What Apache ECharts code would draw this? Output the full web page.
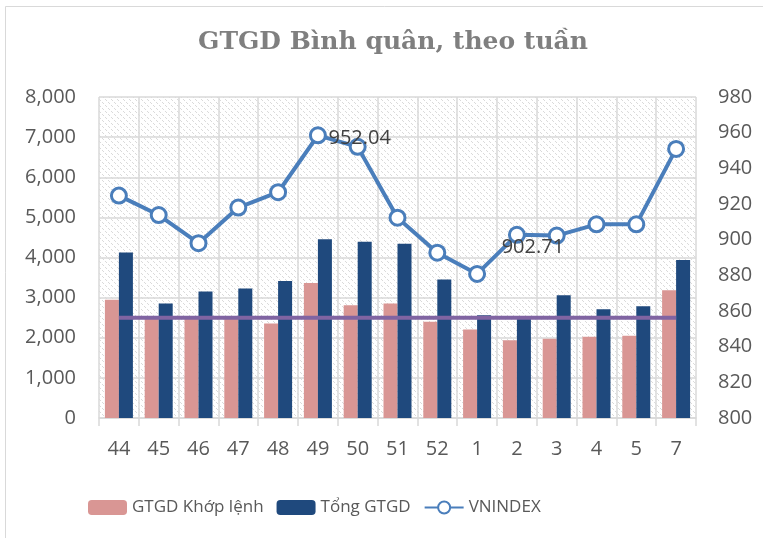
<!DOCTYPE html>
<html>
<head>
<meta charset="utf-8">
<script src="https://cdn.jsdelivr.net/npm/echarts@6/dist/echarts.min.js"></script>
<style>
  html, body { margin: 0; padding: 0; background: #fff; }
  #main { width: 763px; height: 538px; }
</style>
</head>
<body>
<div id="main"></div>
<script>
var weeks = ["44", "45", "46", "47", "48", "49", "50", "51", "52", "1", "2", "3", "4", "5", "7"];
var khopLenh = [2950, 2520, 2490, 2500, 2355, 3366, 2811, 2853, 2396, 2206, 1940, 1973, 2023, 2048, 3184];
var tongGTGD = [4122, 2853, 3151, 3226, 3416, 4453, 4395, 4345, 3450, 2562, 2540, 3060, 2711, 2786, 3938];
var vnindex = [924.7, 913.8, 898.0, 918.0, 926.6, 958.5, 952.04, 912.3, 892.7, 880.8, 902.71, 902.3, 908.6, 908.6, 950.9];
var avgLine = [2500, 2500, 2500, 2500, 2500, 2500, 2500, 2500, 2500, 2500, 2500, 2500, 2500, 2500, 2500];
var leftTicks = [0, 8000, 1000];
var rightTicks = [800, 980, 20];

// hatch pattern for the plot background
function makeHatch() {
  var c = document.createElement("canvas");
  c.width = 6; c.height = 6;
  var ctx = c.getContext("2d");
  ctx.fillStyle = "#ffffff";
  ctx.fillRect(0, 0, 6, 6);
  ctx.fillStyle = "#dadada";
  for (var i = 0; i < 6; i++) {
    if (i % 3 !== 2) ctx.fillRect(i, i, 1, 1);
  }
  return c;
}

var chart = echarts.init(document.getElementById("main"));

var vnData = vnindex.map(function (v, i) {
  if (i === 6) {
    return { value: v, label: { show: true, position: "inside", offset: [2, -9] } };
  }
  if (i === 10) {
    return { value: v, label: { show: true, position: "inside", offset: [16, 12] } };
  }
  return v;
});

var option = {
  animation: false,
  backgroundColor: "#ffffff",
  graphic: [{
    type: "rect",
    shape: { x: 5.5, y: 6.5, width: 900, height: 700 },
    style: { fill: "none", stroke: "#d9d9d9", lineWidth: 1 },
    silent: true
  }],
  title: {
    text: "GTGD Bình quân, theo tuần",
    left: 388,
    top: 25,
    textAlign: "center",
    textStyle: {
      fontFamily: "DejaVu Serif",
      fontWeight: "bold",
      fontSize: 25,
      color: "#7f7f7f"
    }
  },
  legend: {
    left: 83,
    top: 494,
    itemWidth: 39,
    itemHeight: 15,
    itemGap: 13,
    data: ["GTGD Khớp lệnh", "Tổng GTGD", "VNINDEX"],
    textStyle: {
      fontFamily: "Open Sans",
      fontSize: 17,
      color: "#595959"
    }
  },
  grid: {
    left: 99,
    right: 67,
    top: 97,
    bottom: 120,
    show: true,
    borderWidth: 0,
    backgroundColor: { image: makeHatch(), repeat: "repeat" }
  },
  xAxis: {
    type: "category",
    data: weeks,
    axisLine: { lineStyle: { color: "#d9d9d9", width: 1.5 } },
    axisTick: { show: true, length: 8, lineStyle: { color: "#d9d9d9", width: 1.5 } },
    splitLine: { show: true, lineStyle: { color: "#d9d9d9", width: 1.5 } },
    axisLabel: {
      margin: 21,
      fontFamily: "Open Sans",
      fontSize: 20,
      color: "#595959"
    }
  },
  yAxis: [{
    type: "value",
    min: leftTicks[0],
    max: leftTicks[1],
    interval: leftTicks[2],
    axisLine: { show: false },
    axisTick: { show: false },
    splitLine: { lineStyle: { color: "#d9d9d9", width: 1.5 } },
    axisLabel: {
      margin: 23,
      fontFamily: "Open Sans",
      fontSize: 20,
      color: "#595959",
      formatter: function (v) { return v.toLocaleString("en-US"); }
    }
  }, {
    type: "value",
    min: rightTicks[0],
    max: rightTicks[1],
    interval: rightTicks[2],
    axisLine: { show: false },
    axisTick: { show: false },
    splitLine: { show: false },
    axisLabel: {
      margin: 22,
      fontFamily: "Open Sans",
      fontSize: 20,
      color: "#595959"
    }
  }],
  series: [{
    name: "GTGD Khớp lệnh",
    type: "bar",
    data: khopLenh,
    barWidth: 14,
    barGap: "0%",
    itemStyle: { color: "#d99694" }
  }, {
    name: "Tổng GTGD",
    type: "bar",
    data: tongGTGD,
    barWidth: 14,
    itemStyle: { color: "#1f497d" }
  }, {
    name: "Bình quân",
    type: "line",
    data: avgLine,
    symbol: "none",
    lineStyle: { color: "#8064a2", width: 4 },
    itemStyle: { color: "#8064a2" },
    z: 3
  }, {
    name: "VNINDEX",
    type: "line",
    yAxisIndex: 1,
    data: vnData,
    symbol: "circle",
    symbolSize: 15,
    lineStyle: { color: "#4a7ebb", width: 4 },
    itemStyle: { color: "#ffffff", borderColor: "#4a7ebb", borderWidth: 3 },
    label: {
      show: false,
      fontFamily: "Open Sans",
      fontSize: 20,
      color: "#404040",
      formatter: function (p) { return p.value.toFixed(2); }
    },
    z: 4
  }]
};

chart.setOption(option);
</script>
</body>
</html>
